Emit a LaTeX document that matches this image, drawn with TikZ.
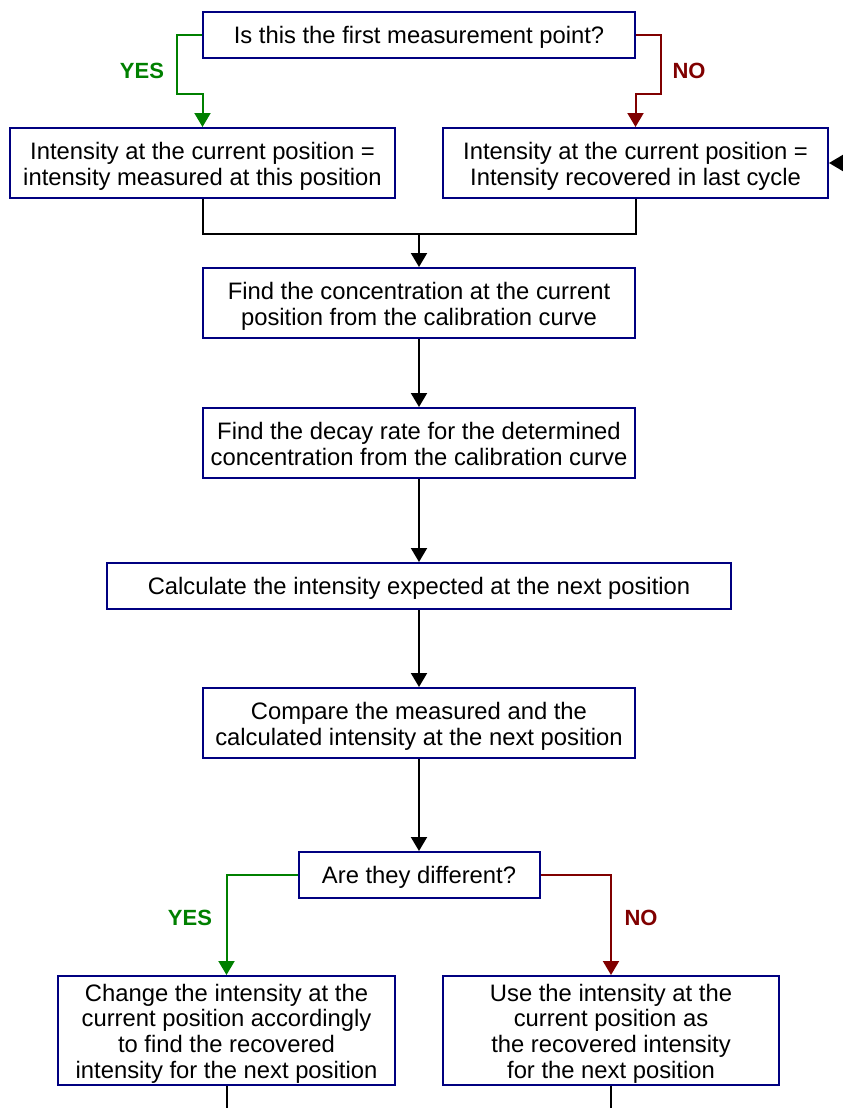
\documentclass[tikz,border=0pt]{standalone}
\usepackage{fontspec}
\setmainfont{Liberation Sans}
\usetikzlibrary{arrows.meta}
\definecolor{boxblue}{RGB}{0,0,128}
\definecolor{yesgreen}{RGB}{0,128,0}
\definecolor{nored}{RGB}{128,0,0}
% extra room above the first line of a multi-line box
\newcommand{\tallstart}{\rule{0pt}{24.6pt}}
\begin{document}
\begin{tikzpicture}[x=1pt,y=-1pt,
  stepbox/.style={draw=boxblue, line width=2pt, fill=white, inner sep=0pt,
    align=center, font=\fontsize{23.8}{25.7}\selectfont,
    % uniform line struts so every text block sits the same way in its box
    execute at begin node={\rule{0pt}{22.6pt}},
    execute at end node={\rule[-6pt]{0pt}{0pt}}},
  conn/.style={line width=2pt, -{Triangle[length=14pt,width=16pt]}},
  plain/.style={line width=2pt},
  lbl/.style={font=\fontsize{22}{24}\selectfont\bfseries}
]
\useasboundingbox (0,0) rectangle (843,1108);
\clip (0,0) rectangle (843,1108);

% process boxes
\node[stepbox, minimum width=432pt, minimum height=46pt] (q1) at (419,35)
  {Is this the first measurement point?};
\node[stepbox, minimum width=385pt, minimum height=70pt] (a) at (202.5,163)
  {\tallstart Intensity at the current position =\\intensity measured at this position};
\node[stepbox, minimum width=385pt, minimum height=70pt] (b) at (635.5,163)
  {\tallstart Intensity at the current position =\\Intensity recovered in last cycle};
\node[stepbox, minimum width=432pt, minimum height=70pt] (c) at (419,303)
  {\tallstart Find the concentration at the current\\position from the calibration curve};
\node[stepbox, minimum width=432pt, minimum height=70pt] (d) at (419,443)
  {\tallstart Find the decay rate for the determined\\concentration from the calibration curve};
\node[stepbox, minimum width=624pt, minimum height=46pt] (e) at (419,586)
  {Calculate the intensity expected at the next position};
\node[stepbox, minimum width=432pt, minimum height=70pt] (f) at (419,723)
  {\tallstart Compare the measured and the\\calculated intensity at the next position};
\node[stepbox, minimum width=241pt, minimum height=46pt] (q2) at (419,875)
  {Are they different?};
\node[stepbox, minimum width=337pt, minimum height=109pt] (g) at (226.5,1030.5)
  {\tallstart Change the intensity at the\\current position accordingly\\to find the recovered\\intensity for the next position};
\node[stepbox, minimum width=336pt, minimum height=109pt] (h) at (611,1030.5)
  {\tallstart Use the intensity at the\\current position as\\the recovered intensity\\for the next position};

% branch labels
\node[lbl, text=yesgreen] (y1) at (142,71) {YES};
\node[lbl, text=nored] (n1) at (689,71) {NO};
\node[lbl, text=yesgreen] (y2) at (190,918) {YES};
\node[lbl, text=nored] (n2) at (641,918) {NO};

% first decision
\draw[conn, yesgreen] (q1.west) -| (177,94) -| (a.north);
\draw[conn, nored] (q1.east) -| (661,94) -| (b.north);

% merge of both branches
\coordinate (join) at (419,234);
\draw[plain] (a.south) |- (join) -| (b.south);
\draw[conn] (join) -- (c);

% main chain
\draw[conn] (c) -- (d);
\draw[conn] (d) -- (e);
\draw[conn] (e) -- (f);
\draw[conn] (f) -- (q2);

% second decision
\draw[conn, yesgreen] (q2.west) -| (g.north);
\draw[conn, nored] (q2.east) -| (h.north);

% loop back into the right box
\coordinate (loopin) at (862,163);
\draw[conn] (loopin) -- (b.east);

% outgoing lines at the bottom
\coordinate (gout) at (226.5,1116);
\coordinate (hout) at (611,1116);
\draw[plain] (g.south) -- (gout);
\draw[plain] (h.south) -- (hout);
\end{tikzpicture}
\end{document}
